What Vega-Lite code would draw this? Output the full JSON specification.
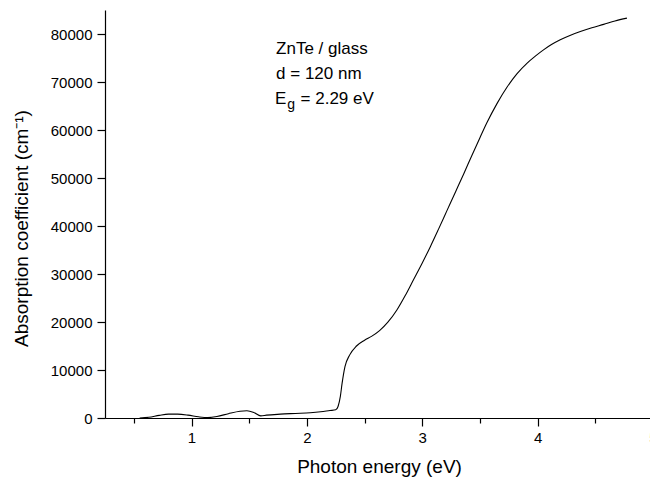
{
  "$schema": "https://vega.github.io/schema/vega-lite/v6.json",
  "autosize": "none",
  "width": 548,
  "height": 408,
  "padding": {"left": 105, "top": 10, "right": 0, "bottom": 65},
  "background": "white",
  "config": {
    "view": {"stroke": null},
    "font": "Liberation Sans",
    "axis": {"grid": false, "domainColor": "black", "tickColor": "black", "labelColor": "black", "titleColor": "black", "domainWidth": 1.2, "tickWidth": 1.2, "labelFont": "Liberation Sans", "titleFont": "Liberation Sans", "titleFontWeight": "normal"}
  },
  "datasets": {
    "curve": [
      {"e": 0.55, "a": 0},
      {"e": 0.63, "a": 150},
      {"e": 0.72, "a": 550},
      {"e": 0.8, "a": 800},
      {"e": 0.88, "a": 800},
      {"e": 0.97, "a": 600},
      {"e": 1.06, "a": 250},
      {"e": 1.14, "a": 80},
      {"e": 1.22, "a": 300},
      {"e": 1.32, "a": 900},
      {"e": 1.42, "a": 1400},
      {"e": 1.48, "a": 1500},
      {"e": 1.54, "a": 1150},
      {"e": 1.6, "a": 450},
      {"e": 1.65, "a": 600},
      {"e": 1.77, "a": 800},
      {"e": 1.9, "a": 950},
      {"e": 2.03, "a": 1100},
      {"e": 2.12, "a": 1300},
      {"e": 2.2, "a": 1550},
      {"e": 2.25, "a": 1700},
      {"e": 2.27, "a": 2400},
      {"e": 2.29, "a": 4500},
      {"e": 2.305, "a": 7200},
      {"e": 2.33, "a": 10700},
      {"e": 2.37, "a": 13100},
      {"e": 2.43, "a": 15000},
      {"e": 2.5, "a": 16200},
      {"e": 2.56, "a": 17000},
      {"e": 2.63, "a": 18200},
      {"e": 2.7, "a": 19900},
      {"e": 2.78, "a": 22500},
      {"e": 2.85, "a": 25400},
      {"e": 2.924, "a": 28800},
      {"e": 3.0, "a": 32300},
      {"e": 3.07, "a": 35700},
      {"e": 3.14, "a": 39300},
      {"e": 3.214, "a": 43200},
      {"e": 3.29, "a": 47200},
      {"e": 3.36, "a": 50900},
      {"e": 3.43, "a": 54700},
      {"e": 3.5, "a": 58400},
      {"e": 3.56, "a": 61500},
      {"e": 3.65, "a": 65600},
      {"e": 3.734, "a": 68900},
      {"e": 3.82, "a": 71700},
      {"e": 3.907, "a": 73900},
      {"e": 3.98, "a": 75400},
      {"e": 4.051, "a": 76700},
      {"e": 4.12, "a": 77800},
      {"e": 4.196, "a": 78800},
      {"e": 4.28, "a": 79700},
      {"e": 4.37, "a": 80500},
      {"e": 4.47, "a": 81300},
      {"e": 4.572, "a": 82000},
      {"e": 4.67, "a": 82700},
      {"e": 4.774, "a": 83300}
    ],
    "notes": [
      {"e": 1.733, "a": 75770, "t": "ZnTe / glass"},
      {"e": 1.733, "a": 70560, "t": "d = 120 nm"},
      {"e": 1.724, "a": 65410, "t": "E"},
      {"e": 1.945, "a": 65410, "t": "= 2.29 eV"}
    ],
    "sub": [
      {"e": 1.83, "a": 64400, "t": "g"}
    ]
  },
  "layer": [
    {
      "data": {"name": "curve"},
      "mark": {"type": "line", "color": "black", "strokeWidth": 1.1, "interpolate": "monotone", "clip": true},
      "encoding": {
        "x": {
          "field": "e", "type": "quantitative",
          "scale": {"domain": [0.25, 5], "nice": false, "zero": false},
          "axis": {
            "title": "Photon energy (eV)",
            "titleFontSize": 19,
            "titlePadding": 12,
            "labelFontSize": 15,
            "labelPadding": 4,
            "values": [0.5, 1, 1.5, 2, 2.5, 3, 3.5, 4, 4.5, 5],
            "labelExpr": "datum.value % 1 === 0 ? '' + datum.value : ''",
            "tickSize": {"condition": {"test": "datum.value % 1 === 0", "value": 8}, "value": 5},
            "labelFlush": false,
            "labelOverlap": false
          }
        },
        "y": {
          "field": "a", "type": "quantitative",
          "scale": {"domain": [0, 85000], "nice": false},
          "axis": {
            "title": "Absorption coefficient (cm⁻¹)",
            "titleFontSize": 19,
            "titlePadding": 19,
            "titleY": 218,
            "labelFontSize": 15,
            "labelPadding": 5,
            "values": [0, 5000, 10000, 15000, 20000, 25000, 30000, 35000, 40000, 45000, 50000, 55000, 60000, 65000, 70000, 75000, 80000],
            "labelExpr": "datum.value % 10000 === 0 ? '' + datum.value : ''",
            "tickSize": {"condition": {"test": "datum.value % 10000 === 0", "value": 8}, "value": 5},
            "labelFlush": false,
            "labelOverlap": false
          }
        }
      }
    },
    {
      "data": {"name": "notes"},
      "mark": {"type": "text", "align": "left", "baseline": "alphabetic", "fontSize": 17, "font": "Liberation Sans", "color": "black"},
      "encoding": {
        "x": {"field": "e", "type": "quantitative"},
        "y": {"field": "a", "type": "quantitative"},
        "text": {"field": "t"}
      }
    },
    {
      "data": {"name": "sub"},
      "mark": {"type": "text", "align": "left", "baseline": "alphabetic", "fontSize": 14, "font": "Liberation Sans", "color": "black"},
      "encoding": {
        "x": {"field": "e", "type": "quantitative"},
        "y": {"field": "a", "type": "quantitative"},
        "text": {"field": "t"}
      }
    }
  ]
}
